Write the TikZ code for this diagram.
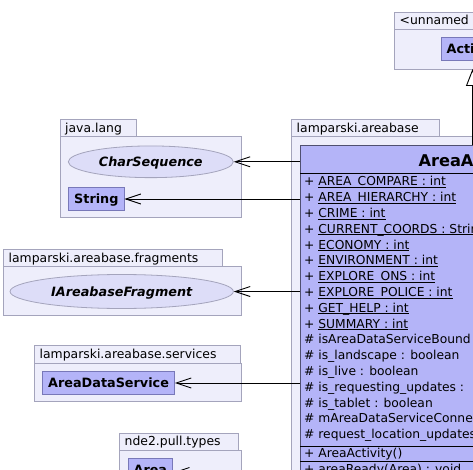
\documentclass[tikz,border=0pt]{standalone}
\usepackage{fontspec}
\setmainfont{DejaVu Sans}
\usetikzlibrary{arrows.meta,shapes.geometric}

\definecolor{pkgfill}{RGB}{238,238,251}
\definecolor{pkgline}{RGB}{164,164,188}
\definecolor{classfill}{RGB}{180,180,248}
\definecolor{classline}{RGB}{120,120,184}
\definecolor{ifacefill}{RGB}{221,221,248}
\definecolor{mainline}{RGB}{80,80,112}

\newcommand{\static}[1]{\underline{\smash{#1}}}

\begin{document}
\begin{tikzpicture}[x=1pt, y=-1pt,
    >={Straight Barb[length=15pt,width=10pt]},
    pkg/.style={draw=pkgline, fill=pkgfill, line width=0.8pt},
    pkglabel/.style={anchor=west, inner sep=0pt, text height=8.9pt, text depth=0pt, font=\fontsize{12.4}{14}\selectfont},
    classbox/.style={draw=classline, fill=classfill, line width=0.8pt, anchor=west, minimum height=23.4pt, inner xsep=5.5pt, text height=9.3pt, text depth=0pt, font=\fontsize{12.8}{15}\selectfont\bfseries},
    iface/.style={ellipse, draw=pkgline, fill=ifacefill, line width=0.8pt, inner sep=0pt, text height=9.3pt, text depth=0pt, font=\fontsize{12.8}{15}\selectfont\bfseries\itshape},
    member/.style={anchor=base west, inner sep=0pt, font=\fontsize{12.3}{14}\selectfont},
    dep/.style={->, line width=0.9pt},
    extends/.style={-{Triangle[length=17pt,width=13pt,fill=white]}, line width=0.9pt}]

    \useasboundingbox (0,0) rectangle (473,470);
    \clip (0,0) rectangle (473,470);

    % <unnamed> package
    \draw[pkg] (394,12) rectangle (500,29);
    \node[pkglabel] (unnamedlabel) at (399.5,20.5) {<unnamed};
    \draw[pkg] (394,29) rectangle (520,69);
    \node[classbox] (activity) at (440.7,48.7) {Activity};
    \coordinate (inherit) at (472.5,69);

    % java.lang
    \draw[pkg] (60,119.5) rectangle (136.7,136.3);
    \node[pkglabel] (javalabel) at (65,128) {java.lang};
    \draw[pkg] (60,136.3) rectangle (241,217.7);
    \node[iface, minimum width=165pt, minimum height=31.7pt] (charseq) at (150.8,161.8) {CharSequence};
    \node[classbox] (string) at (68.3,199) {String};

    % lamparski.areabase.fragments
    \draw[pkg] (3.3,249.5) rectangle (222.7,266.3);
    \node[pkglabel] (fragmentslabel) at (8.5,258) {lamparski.areabase.fragments};
    \draw[pkg] (3.3,266.3) rectangle (241,315);
    \node[iface, minimum width=223.3pt, minimum height=34pt] (fragment) at (121.7,291.5) {IAreabaseFragment};

    % lamparski.areabase.services
    \draw[pkg] (34.3,345.5) rectangle (240,363);
    \node[pkglabel] (serviceslabel) at (39.5,354.3) {lamparski.areabase.services};
    \draw[pkg] (34.3,363) rectangle (241,401.7);
    \node[classbox] (dataservice) at (42.3,383) {AreaDataService};

    % nde2.pull.types
    \draw[pkg] (119.3,433) rectangle (238.3,450);
    \node[pkglabel] (typeslabel) at (124.5,441.5) {nde2.pull.types};
    \draw[pkg] (119.3,450) rectangle (241,520);
    \node[classbox] (area) at (127.7,470) {Area};

    % lamparski.areabase
    \draw[pkg] (291,119) rectangle (439.3,136.3);
    \node[pkglabel] (areabaselabel) at (296.5,127.7) {lamparski.areabase};
    \draw[pkg] (291,136.3) rectangle (700,520);

    % main class
    \node[draw=mainline, fill=classfill, line width=0.8pt, minimum width=342pt, minimum height=400pt, anchor=north west] (areaactivity) at (300,145.3) {};
    \node[anchor=base west, inner sep=0pt, font=\fontsize{16.2}{19}\selectfont\bfseries] (title) at (418.3,166.3) {AreaActivity};
    \draw[line width=0.8pt] (300,173.3) -- (642,173.3);

    % fields
    \node[member] (areacompare) at (304,185.8) {+ \static{AREA\_COMPARE : int}};
    \node[member] (areahierarchy) at (304,201.6) {+ \static{AREA\_HIERARCHY : int}};
    \node[member] (crime) at (304,217.4) {+ \static{CRIME : int}};
    \node[member] (currentcoords) at (304,233.2) {+ \static{CURRENT\_COORDS : String}};
    \node[member] (economy) at (304,249.0) {+ \static{ECONOMY : int}};
    \node[member] (environment) at (304,264.8) {+ \static{ENVIRONMENT : int}};
    \node[member] (exploreons) at (304,280.6) {+ \static{EXPLORE\_ONS : int}};
    \node[member] (explorepolice) at (304,296.4) {+ \static{EXPLORE\_POLICE : int}};
    \node[member] (gethelp) at (304,312.2) {+ \static{GET\_HELP : int}};
    \node[member] (summary) at (304,328.0) {+ \static{SUMMARY : int}};
    \node[member] (isbound) at (304,343.8) {\# isAreaDataServiceBound};
    \node[member] (islandscape) at (304,359.6) {\# is\_landscape : boolean};
    \node[member] (islive) at (304,375.4) {\# is\_live : boolean};
    \node[member] (isrequesting) at (304,391.2) {\# is\_requesting\_updates :};
    \node[member] (istablet) at (304,407.0) {\# is\_tablet : boolean};
    \node[member] (mconnection) at (304,422.8) {\# mAreaDataServiceConnection};
    \node[member] (requestupdates) at (304,438.6) {\# request\_location\_updates};
    \draw[line width=0.8pt] (300,446) -- (642,446);

    % methods
    \node[member] (ctor) at (304,457.7) {+ AreaActivity()};
    \draw[line width=0.8pt] (300,461.7) -- (642,461.7);
    \node[member] (areaready) at (304,473) {+ areaReady(Area) : void};

    % Arrows
    % inheritance
    \draw[extends] (inherit |- areaactivity.north) -- (inherit);
    % dependencies
    \draw[dep] (areaactivity.west |- charseq) -- (charseq.east);
    \draw[dep] (areaactivity.west |- string) -- (string.east);
    \draw[dep] (areaactivity.west |- fragment) -- (fragment.east);
    \draw[dep] (areaactivity.west |- dataservice) -- (dataservice.east);
    \draw[dep] ([yshift=-2.5pt]areaactivity.west |- area) -- ([yshift=-2.5pt]area.east);

\end{tikzpicture}
\end{document}
